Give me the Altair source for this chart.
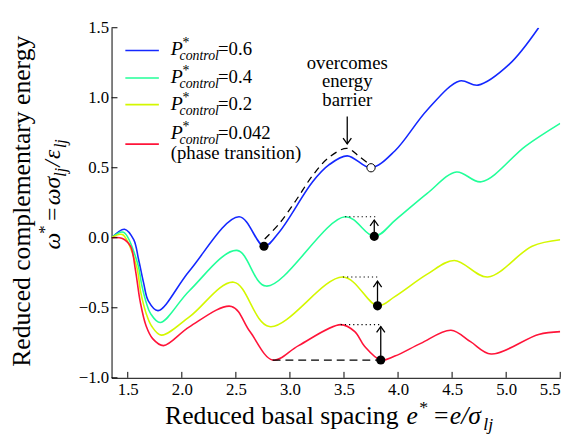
import altair as alt
import pandas as pd

# ---------------------------------------------------------------------
# Values (reduced basal spacing e*, energy omega*)
# ---------------------------------------------------------------------
e_06 = [1.35, 1.47, 1.555, 1.60, 1.646, 1.69, 1.78, 2.07, 2.53, 2.76, 2.90,
        3.21, 3.36, 3.53, 3.75, 3.97, 4.27, 4.57, 4.74, 5.03, 5.30]
w_06 = [0.0, 0.061, -0.014, -0.155, -0.32, -0.45, -0.52, -0.237, 0.15, -0.06,
        0.04, 0.40, 0.52, 0.585, 0.50, 0.62, 0.913, 1.12, 1.09, 1.24, 1.5]

e_04 = [1.35, 1.46, 1.59, 1.63, 1.67, 1.71, 1.80, 2.07, 2.51, 2.78, 3.51,
        3.78, 3.98, 4.27, 4.54, 4.77, 5.18, 5.5]
w_04 = [0.0, 0.04, -0.18, -0.34, -0.46, -0.54, -0.605, -0.378, -0.09, -0.345,
        0.15, 0.01, 0.13, 0.317, 0.47, 0.40, 0.655, 0.817]

e_02 = [1.35, 1.45, 1.58, 1.62, 1.67, 1.72, 1.81, 2.07, 2.48, 2.81, 3.49,
        3.81, 3.97, 4.27, 4.52, 4.83, 5.24, 5.5]
w_02 = [0.0, 0.023, -0.20, -0.39, -0.54, -0.63, -0.695, -0.565, -0.317, -0.634,
        -0.28, -0.486, -0.42, -0.26, -0.162, -0.28, -0.06, -0.014]

e_0042 = [1.35, 1.45, 1.525, 1.57, 1.616, 1.67, 1.73, 1.83, 2.07, 2.46, 2.63,
          2.84, 3.08, 3.47, 3.60, 3.69, 3.84, 3.97, 4.21, 4.49, 4.67, 4.86,
          5.30, 5.5]
w_0042 = [0.0, -0.005, -0.06, -0.225, -0.46, -0.63, -0.72, -0.77, -0.636, -0.49,
          -0.67, -0.873, -0.77, -0.62, -0.67, -0.775, -0.873, -0.845, -0.754,
          -0.66, -0.742, -0.83, -0.69, -0.67]

p_labels = ["0.6", "0.4", "0.2", "0.042"]
colors = ["#1428ff", "#22ff99", "#d4f700", "#ff1439"]

# dashed path over the barrier (P* = 0.6)
dash_e = [2.767, 2.904, 3.057, 3.209, 3.36, 3.528, 3.634, 3.74]
dash_w = [-0.009, 0.104, 0.268, 0.444, 0.573, 0.639, 0.585, 0.521]

# dotted barrier levels and the minima below them
dot_e1 = [3.51, 3.49, 3.47]
dot_e2 = [3.79, 3.82, 3.85]
dot_w = [0.15, -0.28, -0.62]

# filled minima, open end point
min_e = [2.76, 3.78, 3.81, 3.84]
min_w = [-0.06, 0.01, -0.486, -0.873]
open_e = [3.75]
open_w = [0.50]

# upward arrows from the minima
up_e = [3.78, 3.81, 3.84]
up_from = [0.01, -0.486, -0.873]
up_to = [0.127, -0.31, -0.634]

# dashed level of the phase transition
flat_e = [2.84, 3.84]
flat_w = [-0.873, -0.873]

# "overcomes energy barrier" annotation
note_e = [3.53]
note_w = [1.25]
note_arrow_from = [0.866]
note_arrow_to = [0.67]

x_ticks = [1.5, 2.0, 2.5, 3.0, 3.5, 4.0, 4.5, 5.0, 5.5]
y_ticks = [-1.0, -0.5, 0.0, 0.5, 1.0, 1.5]

# ---------------------------------------------------------------------
SERIF = "Liberation Serif"
W, H = 455, 355

x_scale = alt.Scale(domain=[1.35, 5.5], nice=False, zero=False)
y_scale = alt.Scale(domain=[-1.0, 1.5], nice=False, zero=False)
x_axis = alt.Axis(values=x_ticks, format=".1f", ticks=False, grid=False,
                  domainColor="black", labelFont=SERIF, labelFontSize=17,
                  labelColor="black", labelPadding=4, title=None)
y_axis = alt.Axis(values=y_ticks, format=".1f", ticks=False, grid=False,
                  domainColor="black", labelFont=SERIF, labelFontSize=17,
                  labelColor="black", labelPadding=3, title=None)


def X(field):
    return alt.X(field, type="quantitative", scale=x_scale, axis=x_axis)


def Y(field):
    return alt.Y(field, type="quantitative", scale=y_scale, axis=y_axis)


curves = pd.concat([
    pd.DataFrame({"e": e, "w": w, "p": p})
    for e, w, p in [(e_06, w_06, "0.6"), (e_04, w_04, "0.4"),
                    (e_02, w_02, "0.2"), (e_0042, w_0042, "0.042")]
])

lines = alt.Chart(curves).mark_line(
    interpolate="catmull-rom", strokeWidth=1.6, clip=True
).encode(
    x=X("e"), y=Y("w"),
    color=alt.Color("p:N", scale=alt.Scale(domain=p_labels, range=colors),
                    legend=None),
    detail="p:N",
)

dashed = alt.Chart(pd.DataFrame({"e": dash_e, "w": dash_w})).mark_line(
    interpolate="catmull-rom", color="black", strokeWidth=1.3, strokeDash=[7, 5]
).encode(x=X("e"), y=Y("w"))

flat = alt.Chart(pd.DataFrame({"e": flat_e, "w": flat_w})).mark_line(
    color="black", strokeWidth=1.3, strokeDash=[8, 5]
).encode(x=X("e"), y=Y("w"))

dotted = alt.Chart(pd.DataFrame({"e1": dot_e1, "e2": dot_e2, "w": dot_w})).mark_rule(
    color="black", strokeWidth=1.2, strokeDash=[1.2, 3]
).encode(x=X("e1"), x2="e2", y=Y("w"))

arrows = pd.DataFrame({"e": up_e, "w1": up_from, "w2": up_to})
shafts = alt.Chart(arrows).mark_rule(color="black", strokeWidth=1.3).encode(
    x=X("e"), y=Y("w1"), y2="w2")
heads = alt.Chart(arrows).mark_point(
    shape="M-0.7,1L0,0L0.7,1", filled=False, color="black", strokeWidth=1.3,
    size=144, opacity=1
).encode(x=X("e"), y=Y("w2"))

note_arrow = pd.DataFrame({"e": note_e, "w1": note_arrow_from, "w2": note_arrow_to})
note_shaft = alt.Chart(note_arrow).mark_rule(color="black", strokeWidth=1.3).encode(
    x=X("e"), y=Y("w1"), y2="w2")
note_head = alt.Chart(note_arrow).mark_point(
    shape="M-0.7,-1L0,0L0.7,-1", filled=False, color="black", strokeWidth=1.3,
    size=144, opacity=1
).encode(x=X("e"), y=Y("w2"))

minima = alt.Chart(pd.DataFrame({"e": min_e, "w": min_w})).mark_circle(
    color="black", size=85, opacity=1
).encode(x=X("e"), y=Y("w"))

open_pt = alt.Chart(pd.DataFrame({"e": open_e, "w": open_w})).mark_point(
    shape="circle", filled=True, fill="white", stroke="black", strokeWidth=1,
    size=70, opacity=1
).encode(x=X("e"), y=Y("w"))

note = alt.Chart(pd.DataFrame({"e": note_e, "w": note_w,
                               "t": ["overcomes\nenergy\nbarrier"]})).mark_text(
    font=SERIF, fontSize=19, lineBreak="\n", lineHeight=19, align="center",
    baseline="middle", color="black"
).encode(x=X("e"), y=Y("w"), text="t:N")

# inward ticks
xt = alt.Chart(pd.DataFrame({"t": x_ticks})).mark_rule(color="black").encode(
    x=X("t"), y=alt.value(H), y2=alt.value(H - 6))
yt = alt.Chart(pd.DataFrame({"t": y_ticks})).mark_rule(color="black").encode(
    y=Y("t"), x=alt.value(0), x2=alt.value(6))

ANCHOR = pd.DataFrame({"a": [0]})


def piece(text, x, y, size, dx=0, dy=0, italic=False, angle=0,
          align="left", baseline="alphabetic"):
    return alt.Chart(ANCHOR).mark_text(
        text=text, font=SERIF, fontSize=size,
        fontStyle="italic" if italic else "normal",
        align=align, baseline=baseline, dx=dx, dy=dy, angle=angle,
        color="black"
    ).encode(x=alt.value(x), y=alt.value(y))


texts = []

# legend (drawn by hand to get P*_control)
legend_line_y = [23, 51, 78, 118]
legend_text_y = [28, 56, 83, 113]
for p, c, ly, ty in zip(p_labels, colors, legend_line_y, legend_text_y):
    texts.append(alt.Chart(ANCHOR).mark_rule(color=c, strokeWidth=1.6).encode(
        x=alt.value(14), x2=alt.value(48), y=alt.value(ly)))
    texts.append(piece("P", 60, ty, 20, italic=True))
    texts.append(piece("*", 60, ty, 14, dx=12, dy=-8))
    texts.append(piece("control", 60, ty, 14, dx=9, dy=5, italic=True))
    texts.append(piece("=" + p, 108, ty, 19))
texts.append(piece("(phase transition)", 60, 133, 19))

# x title
texts.append(piece("Reduced basal spacing", 291, 402, 26, align="right"))
texts.append(piece("e", 291, 402, 26, dx=8, italic=True))
texts.append(piece("*", 291, 402, 18, dx=21, dy=-11))
texts.append(piece("=", 291, 402, 26, dx=36))
texts.append(piece("e/σ", 291, 402, 26, dx=52, italic=True))
texts.append(piece("lj", 291, 402, 18, dx=86, dy=6, italic=True))

# y title
texts.append(piece("Reduced complementary energy", -83, 176, 26, angle=270,
                   align="center"))
for t, size, dx, dy, it in [
    ("ω", 24, 0, 0, True),
    ("*", 17, 16, -10, False),
    ("=", 24, 29, 0, False),
    ("ωσ", 24, 45, 0, True),
    ("lj", 16, 74, 6, True),
    ("/", 24, 84, 0, True),
    ("ε", 24, 92, 0, True),
    ("lj", 16, 103, 6, True),
]:
    texts.append(piece(t, -52, 225, size, dx=dx, dy=dy, italic=it, angle=270))

chart = alt.layer(
    lines, dashed, flat, dotted, shafts, heads, note_shaft, note_head,
    minima, open_pt, note, xt, yt, *texts
).properties(
    width=W, height=H, autosize="none",
    padding={"left": 105, "top": 17, "right": 16, "bottom": 56},
    background="white",
).configure_view(stroke=None)

chart.save("out.html", embed_options={"renderer": "svg", "actions": False})
